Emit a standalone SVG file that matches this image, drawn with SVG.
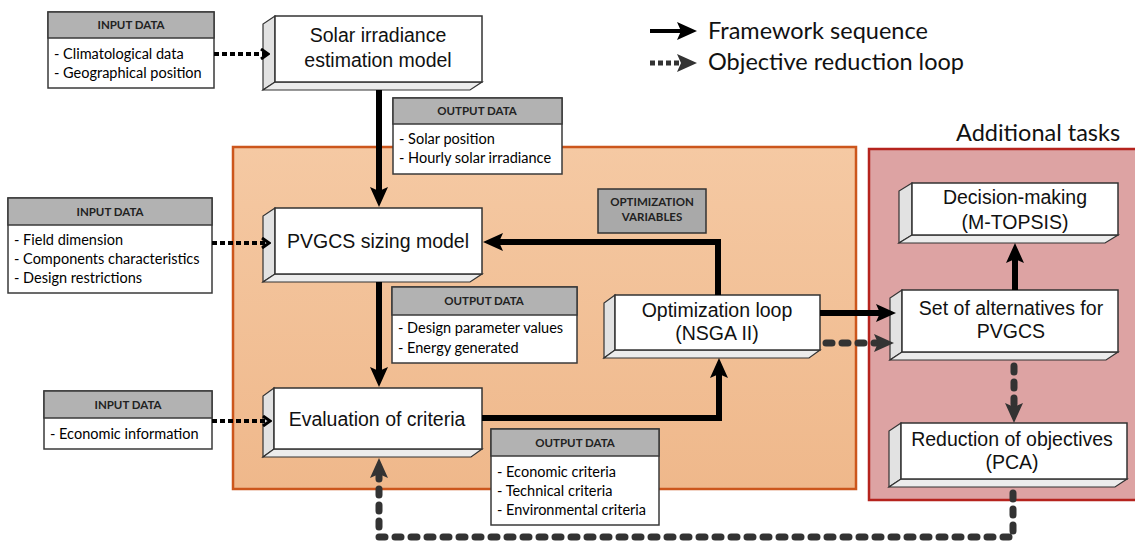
<svg xmlns="http://www.w3.org/2000/svg" width="1135" height="541" viewBox="0 0 1135 541">
<style>
.dbox{fill:#fff;stroke:#3a3a3a;stroke-width:1.5}
.dhead{fill:#b2b2b2;stroke:#3a3a3a;stroke-width:1.5}
.ht{font-family:Lato,"Open Sans",sans-serif;font-weight:bold;font-size:11.5px;fill:#222;text-anchor:middle}
.lt{font-family:Lato,"Open Sans",sans-serif;font-size:14.5px;fill:#000}
.front{fill:#fff;stroke:#333;stroke-width:1.5}
.side{fill:#e2e2e2;stroke:#333;stroke-width:1.2}
.bot{fill:#ececec;stroke:#333;stroke-width:1.2}
.bt{font-family:"Liberation Sans",Arial,sans-serif;font-size:19.5px;fill:#111;text-anchor:middle}
.leg{font-family:Lato,"Open Sans",sans-serif;font-size:23.5px;fill:#111}
.solid{fill:none;stroke:#000;stroke-width:6}
.dash{fill:none;stroke:#333;stroke-width:7;stroke-dasharray:6 10;stroke-linecap:round}
.dot{fill:none;stroke:#000;stroke-width:4;stroke-dasharray:5 3}
</style>
<defs>
<linearGradient id="og" x1="0" y1="0" x2="0" y2="1"><stop offset="0" stop-color="#f5c9a3"/><stop offset="1" stop-color="#efb88b"/></linearGradient>
<marker id="hs" viewBox="0 0 20 18" refX="6" refY="9" markerWidth="20" markerHeight="18" markerUnits="userSpaceOnUse" orient="auto"><path d="M0,0 L20,9 L0,18 L4,9 Z" fill="#000"/></marker>
<marker id="hg" viewBox="0 0 20 18" refX="6" refY="9" markerWidth="20" markerHeight="18" markerUnits="userSpaceOnUse" orient="auto"><path d="M0,0 L20,9 L0,18 L4,9 Z" fill="#333"/></marker>
<marker id="hc" viewBox="0 0 10 12" refX="8" refY="6" markerWidth="10" markerHeight="12" markerUnits="userSpaceOnUse" orient="auto"><path d="M1,1 L8,6 L1,11" fill="none" stroke="#000" stroke-width="3"/></marker>
</defs>
<rect width="1135" height="541" fill="#fff"/>
<g id="panels">
<rect x="233" y="147" width="623" height="342" fill="url(#og)" stroke="#cc561c" stroke-width="2.5"/>
<rect x="869" y="149" width="275" height="351" fill="#dda3a3" stroke="#b5231d" stroke-width="2.5"/>
<text class="leg" x="956" y="141">Additional tasks</text>
</g>
<g id="legend">
<line x1="650" y1="31" x2="683" y2="31" stroke="#000" stroke-width="4" marker-end="url(#hs)"/>
<text class="leg" x="708" y="39">Framework sequence</text>
<line x1="650" y1="63" x2="683" y2="63" stroke="#333" stroke-width="5" stroke-dasharray="5 3" marker-end="url(#hg)"/>
<text class="leg" x="708" y="70">Objective reduction loop</text>
</g>
<g id="input1">
<rect class="dbox" x="48" y="12" width="166" height="76"/>
<rect class="dhead" x="48" y="12" width="166" height="26"/>
<text class="ht" x="131" y="29">INPUT DATA</text>
<text class="lt" x="54" y="59">- Climatological data</text>
<text class="lt" x="54" y="78">- Geographical position</text>
</g>
<g id="input2">
<rect class="dbox" x="8" y="198" width="204" height="95"/>
<rect class="dhead" x="8" y="198" width="204" height="27"/>
<text class="ht" x="110" y="216">INPUT DATA</text>
<text class="lt" x="14" y="245">- Field dimension</text>
<text class="lt" x="14" y="264">- Components characteristics</text>
<text class="lt" x="14" y="283">- Design restrictions</text>
</g>
<g id="input3">
<rect class="dbox" x="44" y="391" width="168" height="58"/>
<rect class="dhead" x="44" y="391" width="168" height="27"/>
<text class="ht" x="128" y="409">INPUT DATA</text>
<text class="lt" x="50" y="439">- Economic information</text>
</g>
<g id="output1">
<rect class="dbox" x="393" y="98" width="169" height="76"/>
<rect class="dhead" x="393" y="98" width="169" height="26"/>
<text class="ht" x="477" y="115">OUTPUT DATA</text>
<text class="lt" x="399" y="144">- Solar position</text>
<text class="lt" x="399" y="163">- Hourly solar irradiance</text>
</g>
<g id="output2">
<rect class="dbox" x="392" y="287" width="185" height="76"/>
<rect class="dhead" x="392" y="287" width="185" height="28"/>
<text class="ht" x="484" y="305">OUTPUT DATA</text>
<text class="lt" x="398" y="333">- Design parameter values</text>
<text class="lt" x="398" y="353">- Energy generated</text>
</g>
<g id="output3">
<rect class="dbox" x="491" y="429" width="168" height="96"/>
<rect class="dhead" x="491" y="429" width="168" height="27"/>
<text class="ht" x="575" y="447">OUTPUT DATA</text>
<text class="lt" x="497" y="477">- Economic criteria</text>
<text class="lt" x="497" y="496">- Technical criteria</text>
<text class="lt" x="497" y="515">- Environmental criteria</text>
</g>
<g id="optvars">
<rect x="598" y="189" width="108" height="44" fill="#a9a9a9" stroke="#333" stroke-width="1.5"/>
<text class="ht" x="652" y="206">OPTIMIZATION</text>
<text class="ht" x="652" y="221">VARIABLES</text>
</g>
<g id="solar">
<polygon class="side" points="275,16 263,24 263,90 275,82"/>
<polygon class="bot" points="275,82 482,82 470,90 263,90"/>
<rect class="front" x="275" y="16" width="207" height="66"/>
<text class="bt" x="378" y="42">Solar irradiance</text>
<text class="bt" x="378" y="67">estimation model</text>
</g>
<g id="pvgcs">
<polygon class="side" points="275,208 263,216 263,282 275,274"/>
<polygon class="bot" points="275,274 482,274 470,282 263,282"/>
<rect class="front" x="275" y="208" width="207" height="66"/>
<text class="bt" x="378" y="248">PVGCS sizing model</text>
</g>
<g id="evaluation">
<polygon class="side" points="274,388 263,396 263,457 274,449"/>
<polygon class="bot" points="274,449 482,449 471,457 263,457"/>
<rect class="front" x="274" y="388" width="208" height="61"/>
<text class="bt" x="377" y="426">Evaluation of criteria</text>
</g>
<g id="optimization">
<polygon class="side" points="615,295 604,303 604,358 615,350"/>
<polygon class="bot" points="615,350 820,350 809,358 604,358"/>
<rect class="front" x="615" y="295" width="205" height="55"/>
<text class="bt" x="717" y="317">Optimization loop</text>
<text class="bt" x="717" y="340">(NSGA II)</text>
</g>
<g id="decision">
<polygon class="side" points="912,183 899,191 899,243 912,235"/>
<polygon class="bot" points="912,235 1118,235 1105,243 899,243"/>
<rect class="front" x="912" y="183" width="206" height="52"/>
<text class="bt" x="1015" y="204">Decision-making</text>
<text class="bt" x="1015" y="229">(M-TOPSIS)</text>
</g>
<g id="alternatives">
<polygon class="side" points="902,290 890,298 890,360 902,352"/>
<polygon class="bot" points="902,352 1118,352 1106,360 890,360"/>
<rect class="front" x="902" y="290" width="216" height="62"/>
<text class="bt" x="1011" y="315">Set of alternatives for</text>
<text class="bt" x="1011" y="338">PVGCS</text>
</g>
<g id="reduction">
<polygon class="side" points="901,423 889,431 889,487 901,479"/>
<polygon class="bot" points="901,479 1127,479 1115,487 889,487"/>
<rect class="front" x="901" y="423" width="226" height="56"/>
<text class="bt" x="1012" y="446">Reduction of objectives</text>
<text class="bt" x="1012" y="469">(PCA)</text>
</g>
<g id="connectors">
<line class="dot" x1="214" y1="54" x2="268" y2="54" marker-end="url(#hc)"/>
<line class="dot" x1="212" y1="243" x2="269" y2="243" marker-end="url(#hc)"/>
<line class="dot" x1="212" y1="421" x2="270" y2="421" marker-end="url(#hc)"/>
<line class="solid" x1="379" y1="90" x2="379" y2="193" marker-end="url(#hs)"/>
<line class="solid" x1="379" y1="282" x2="379" y2="373" marker-end="url(#hs)"/>
<polyline class="solid" points="482,418 719,418 719,372" marker-end="url(#hs)"/>
<polyline class="solid" points="718,295 718,242 497,242" marker-end="url(#hs)"/>
<line class="solid" x1="820" y1="313" x2="882" y2="313" marker-end="url(#hs)"/>
<line class="solid" x1="1015" y1="290" x2="1015" y2="257" marker-end="url(#hs)"/>
<line class="dash" x1="826" y1="343" x2="880" y2="343" marker-end="url(#hg)"/>
<line class="dash" x1="1014" y1="366" x2="1014" y2="409" marker-end="url(#hg)"/>
<polyline class="dash" points="1013,493 1013,537 379,537 379,472" marker-end="url(#hg)"/>
</g>
</svg>
